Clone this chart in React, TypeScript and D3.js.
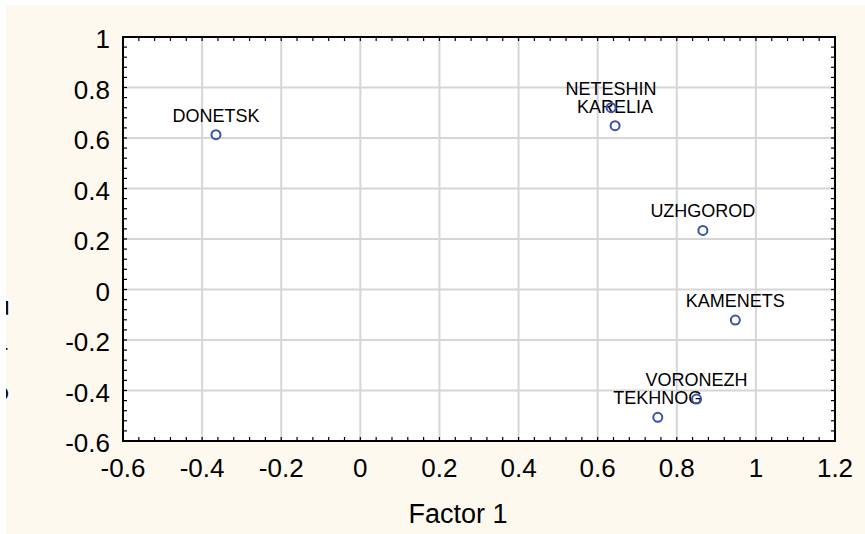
import React from "react";
import * as d3 from "d3";

const names = ["DONETSK", "NETESHIN", "KARELIA", "UZHGOROD", "KAMENETS", "VORONEZH", "TEKHNOG"];
const factor1 = [-0.365, 0.634, 0.644, 0.866, 0.948, 0.85, 0.752];
const factor2 = [0.613, 0.72, 0.649, 0.234, -0.121, -0.434, -0.506];
const xTicks = [-0.6, -0.4, -0.2, 0, 0.2, 0.4, 0.6, 0.8, 1, 1.2];
const yTicks = [1, 0.8, 0.6, 0.4, 0.2, 0, -0.2, -0.4, -0.6];
const xTitle = "Factor 1";
const yTitle = "Factor 2";

const W = 865;
const H = 534;
const L = 123, R = 835, T = 37, B = 441;
const FONT = "'Liberation Sans', Arial, Helvetica, sans-serif";

export default function App() {
  const x = d3.scaleLinear().domain([-0.6, 1.2]).range([L, R]);
  const y = d3.scaleLinear().domain([-0.6, 1]).range([B, T]);
  const xMinor = d3.range(-0.6, 1.2 + 1e-9, 0.04);
  const yMinor = d3.range(-0.6, 1 + 1e-9, 0.04);
  const tl = 4;
  const fmt = (v: number) => String(Math.round(v * 10) / 10);

  return (
    <div style={{ position: "absolute", left: 0, top: 0 }}>
      <svg width={W} height={H} style={{ display: "block", background: "#ffffff" }} fontFamily={FONT}>
        <defs>
          <clipPath id="cream">
            <rect x={6} y={5} width={W - 6} height={H - 5} />
          </clipPath>
        </defs>
        <rect x={6} y={5} width={W - 6} height={H - 5} fill="#fdf9ee" />
        <rect x={L} y={T} width={R - L} height={B - T} fill="#ffffff" />
        {xTicks.slice(1, -1).map((v) => (
          <line key={"gx" + v} x1={x(v)} x2={x(v)} y1={T} y2={B} stroke="#d6d6d6" strokeWidth={2} />
        ))}
        {yTicks.slice(1, -1).map((v) => (
          <line key={"gy" + v} y1={y(v)} y2={y(v)} x1={L} x2={R} stroke="#d6d6d6" strokeWidth={2} />
        ))}
        {xMinor.map((v, i) => (
          <g key={"mx" + i}>
            <line x1={x(v)} x2={x(v)} y1={B} y2={B - tl} stroke="#000" strokeWidth={1.2} />
            <line x1={x(v)} x2={x(v)} y1={T} y2={T + tl} stroke="#000" strokeWidth={1.2} />
          </g>
        ))}
        {yMinor.map((v, i) => (
          <g key={"my" + i}>
            <line y1={y(v)} y2={y(v)} x1={L} x2={L + tl} stroke="#000" strokeWidth={1.2} />
            <line y1={y(v)} y2={y(v)} x1={R} x2={R - tl} stroke="#000" strokeWidth={1.2} />
          </g>
        ))}
        <rect x={L} y={T} width={R - L} height={B - T} fill="none" stroke="#000" strokeWidth={2} />
        {xTicks.map((v) => (
          <text key={"tx" + v} x={x(v)} y={477} textAnchor="middle" fontSize={26} fill="#000">
            {fmt(v)}
          </text>
        ))}
        {yTicks.map((v) => (
          <text key={"ty" + v} x={110} y={y(v) + 11} textAnchor="end" fontSize={26} fill="#000">
            {fmt(v)}
          </text>
        ))}
        <text x={458} y={523} textAnchor="middle" fontSize={27} fill="#000">
          {xTitle}
        </text>
        <g clipPath="url(#cream)">
          <text transform={`translate(-11,350) rotate(90)`} textAnchor="middle" fontSize={28} fill="#000">
            {yTitle}
          </text>
        </g>
        {names.map((n, i) => (
          <text key={"l" + n} x={x(factor1[i])} y={y(factor2[i]) - 13} textAnchor="middle" fontSize={18} fill="#000">
            {n}
          </text>
        ))}
        {names.map((n, i) => (
          <circle key={"c" + n} cx={x(factor1[i])} cy={y(factor2[i])} r={4.5} fill="none" stroke="#3953ad" strokeWidth={2} />
        ))}
      </svg>
    </div>
  );
}
